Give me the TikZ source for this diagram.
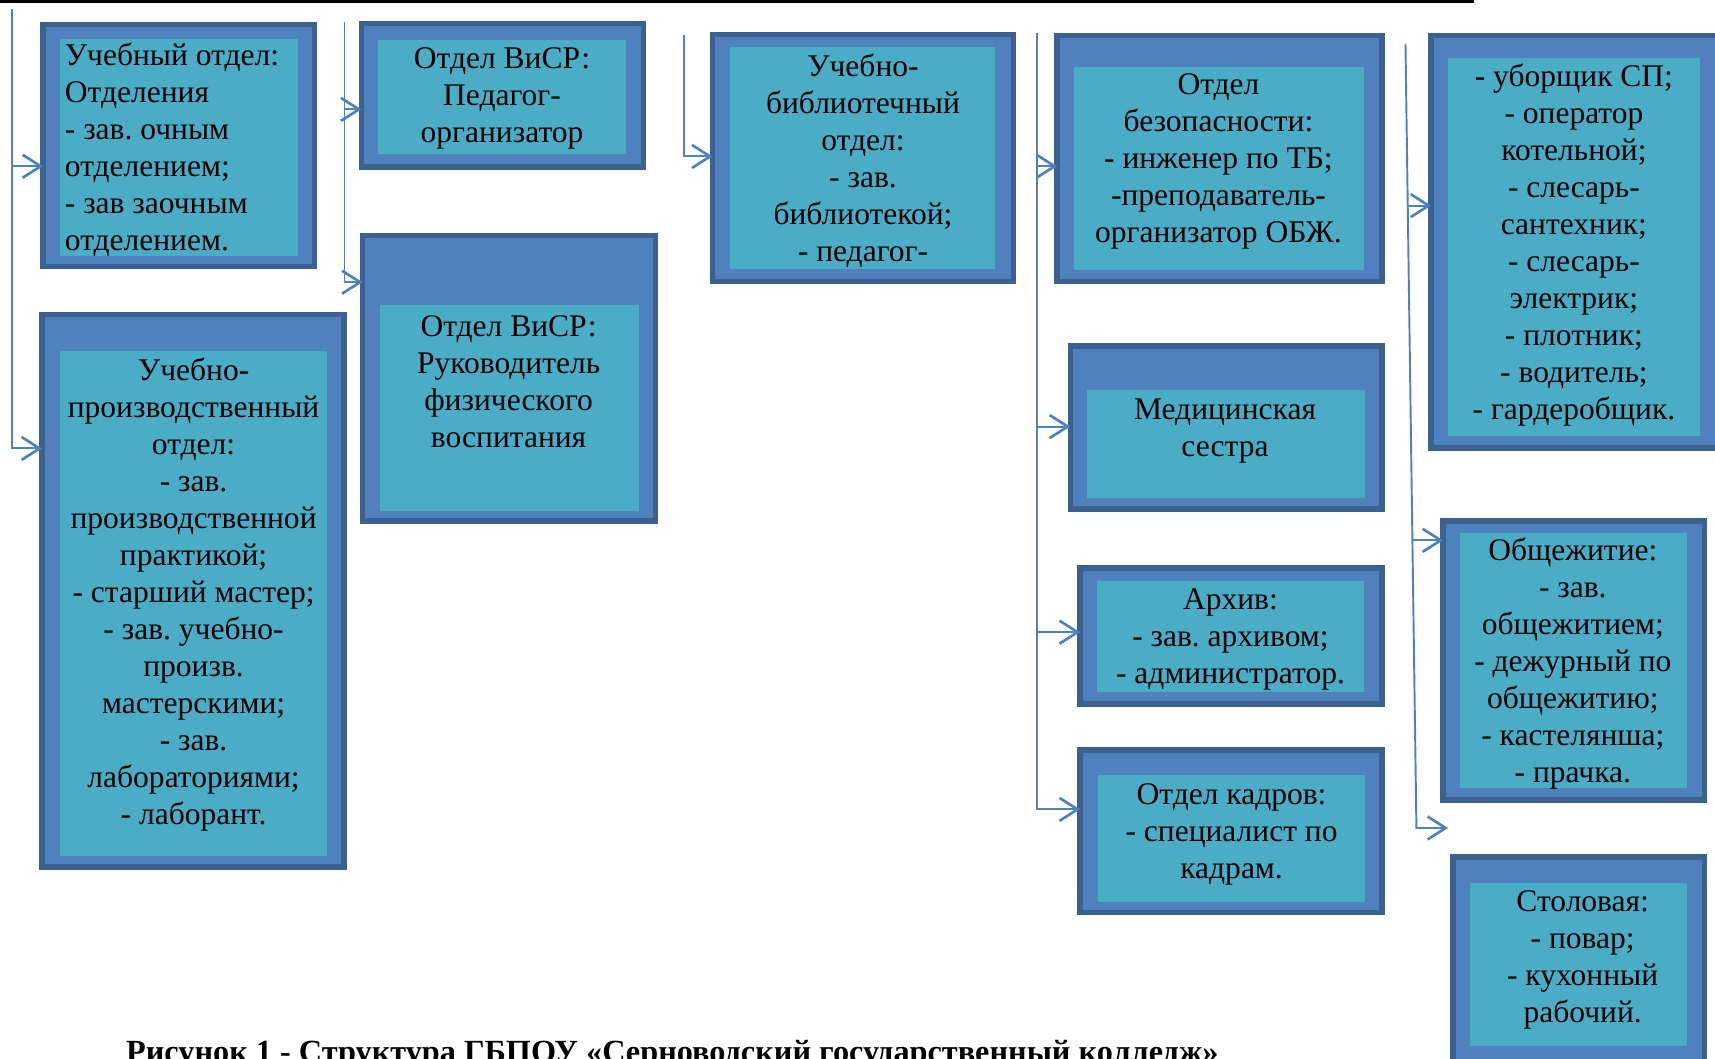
\documentclass[tikz,border=0pt]{standalone}
\usepackage{fontspec}
\setmainfont{Liberation Serif}
\usetikzlibrary{arrows.meta}
\definecolor{bdark}{HTML}{3C6191}
\definecolor{bmid}{HTML}{4F81BD}
\definecolor{bcyan}{HTML}{4BACC6}
\definecolor{conncol}{HTML}{4F81BD}
\newcommand{\pxu}{0.02cm}
% name, x1, y1, x2, y2, ix1, iy1, ix2, iy2
\newcommand{\orgbox}[9]{%
  \node[outerbox, minimum width={(#4-#2-5)*\pxu}, minimum height={(#5-#3-5)*\pxu}] (#1) at ({(#2+#4)/2},{(#3+#5)/2}) {};
  \node[innerbox, minimum width={(#8-#6)*\pxu}, minimum height={(#9-#7)*\pxu}] (#1i) at ({(#6+#8)/2},{(#7+#9)/2}) {};
}
\tikzset{
  outerbox/.style={draw=bdark, fill=bmid, line width=5*\pxu, inner sep=0pt, outer sep=0pt},
  innerbox/.style={fill=bcyan, inner sep=0pt, outer sep=0pt},
  txt/.style={inner sep=0pt, align=center, font=\fontsize{16.4}{19.25}\selectfont},
  conn/.style={draw=conncol, line width=1pt},
  arr/.style={conn, -{Straight Barb[length=0.33cm, width=0.42cm, line width=1.4pt]}},
}
\begin{document}
\frenchspacing
\begin{tikzpicture}[x=0.02cm, y=-0.02cm]
\useasboundingbox (0,0) rectangle (1568,968);
\clip (0,0) rectangle (1568,968);

% top black rule with ticks
\draw[black, line width=3*\pxu] (0,1.5) -- (1346,1.5);
\foreach \tx in {175,533,948,1346} \draw[black, line width=3*\pxu] (\tx,-6) -- (\tx,3);

% boxes
\orgbox{b1}{37}{20}{290}{246}{55}{36}{272}{234}
\orgbox{b2}{328}{19}{591}{155}{346}{37}{572}{141}
\orgbox{b3}{329}{213}{602}{479}{347}{279}{584}{467}
\orgbox{b4}{36}{285}{317}{795}{55}{321}{299}{783}
\orgbox{b5}{649}{29}{929}{260}{667}{43}{910}{246}
\orgbox{b6}{964}{30}{1266}{260}{982}{61}{1247}{247}
\orgbox{b7}{976}{314}{1266}{468}{994}{357}{1248}{455}
\orgbox{b8}{985}{517}{1266}{646}{1003}{531}{1247}{633}
\orgbox{b9}{985}{683}{1266}{837}{1004}{709}{1248}{825}
\orgbox{b10}{1306}{30}{1573}{412}{1324}{53}{1554}{399}
\orgbox{b11}{1317}{474}{1561}{734}{1335}{487}{1542}{720}
\orgbox{b12}{1326}{781}{1561}{980}{1344}{807}{1542}{956}

% texts
\node[txt, align=left, anchor=west] (b1t) at (59,137) {Учебный отдел:\\Отделения\\- зав. очным\\отделением;\\- зав заочным\\отделением.};
\node[txt] (b2t) at (459,90) {Отдел ВиСР:\\Педагог-\\организатор};
\node[txt] (b3t) at (465,349) {Отдел ВиСР:\\Руководитель\\физического\\воспитания};
\node[txt] (b4t) at (177,544) {Учебно-\\производственный\\отдел:\\- зав.\\производственной\\практикой;\\- старший мастер;\\- зав. учебно-\\произв.\\мастерскими;\\- зав.\\лабораториями;\\- лаборант.};
\node[txt] (b5t) at (789,147) {Учебно-\\библиотечный\\отдел:\\- зав.\\библиотекой;\\- педагог-};
\node[txt] (b6t) at (1114,148) {Отдел\\безопасности:\\- инженер по ТБ;\\-преподаватель-\\организатор ОБЖ.};
\node[txt] (b7t) at (1120,394) {Медицинская\\сестра};
\node[txt] (b8t) at (1125,585) {Архив:\\- зав. архивом;\\- администратор.};
\node[txt] (b9t) at (1126,763) {Отдел кадров:\\- специалист по\\кадрам.};
\node[txt] (b10t) at (1439,224) {- уборщик СП;\\- оператор\\котельной;\\- слесарь-\\сантехник;\\- слесарь-\\электрик;\\- плотник;\\- водитель;\\- гардеробщик.};
\node[txt] (b11t) at (1438,607) {Общежитие:\\- зав.\\общежитием;\\- дежурный по\\общежитию;\\- кастелянша;\\- прачка.};
\node[txt] (b12t) at (1447,878) {Столовая:\\- повар;\\- кухонный\\рабочий.};

% caption
\node[inner sep=0pt, anchor=base west, font=\fontsize{16.8}{20}\selectfont\bfseries] (cap) at (115,971) {Рисунок 1 - Структура ГБПОУ «Серноводский государственный колледж»};

% connector coordinates
\coordinate (t1top) at (11,8);
\coordinate (t1a) at (11,152);
\coordinate (t1b) at (11,410);
\coordinate (t2top) at (315,20);
\coordinate (t2a) at (315,100);
\coordinate (t2b) at (315,258);
\coordinate (t3top) at (625,32);
\coordinate (t3b) at (625,143);
\coordinate (t4top) at (948,30);
\coordinate (t4a) at (948,152);
\coordinate (t4b) at (948,390);
\coordinate (t4c) at (948,578);
\coordinate (t4d) at (948,740);
\coordinate (t5top) at (1285,40);
\coordinate (t5a) at (1287,188);
\coordinate (t5b) at (1291.3,494);
\coordinate (t5c) at (1295,757);
\coordinate (t5end) at (1324,757);

% trunk 1
\draw[arr] (t1top) |- (t1b -| b4.west);
\draw[arr] (t1a) -- (t1a -| b1.west);
% trunk 2
\draw[arr] (t2top) |- (t2b -| b3.west);
\draw[arr] (t2a) -- (t2a -| b2.west);
% trunk 3
\draw[arr] (t3top) |- (t3b -| b5.west);
% trunk 4
\draw[arr] (t4top) |- (t4d -| b9.west);
\draw[arr] (t4a) -- (t4a -| b6.west);
\draw[arr] (t4b) -- (t4b -| b7.west);
\draw[arr] (t4c) -- (t4c -| b8.west);
% trunk 5
\draw[arr] (t5top) -- (t5c) -- (t5end);
\draw[arr] (t5a) -- (t5a -| b10.west);
\draw[arr] (t5b) -- (t5b -| b11.west);
\end{tikzpicture}
\end{document}
